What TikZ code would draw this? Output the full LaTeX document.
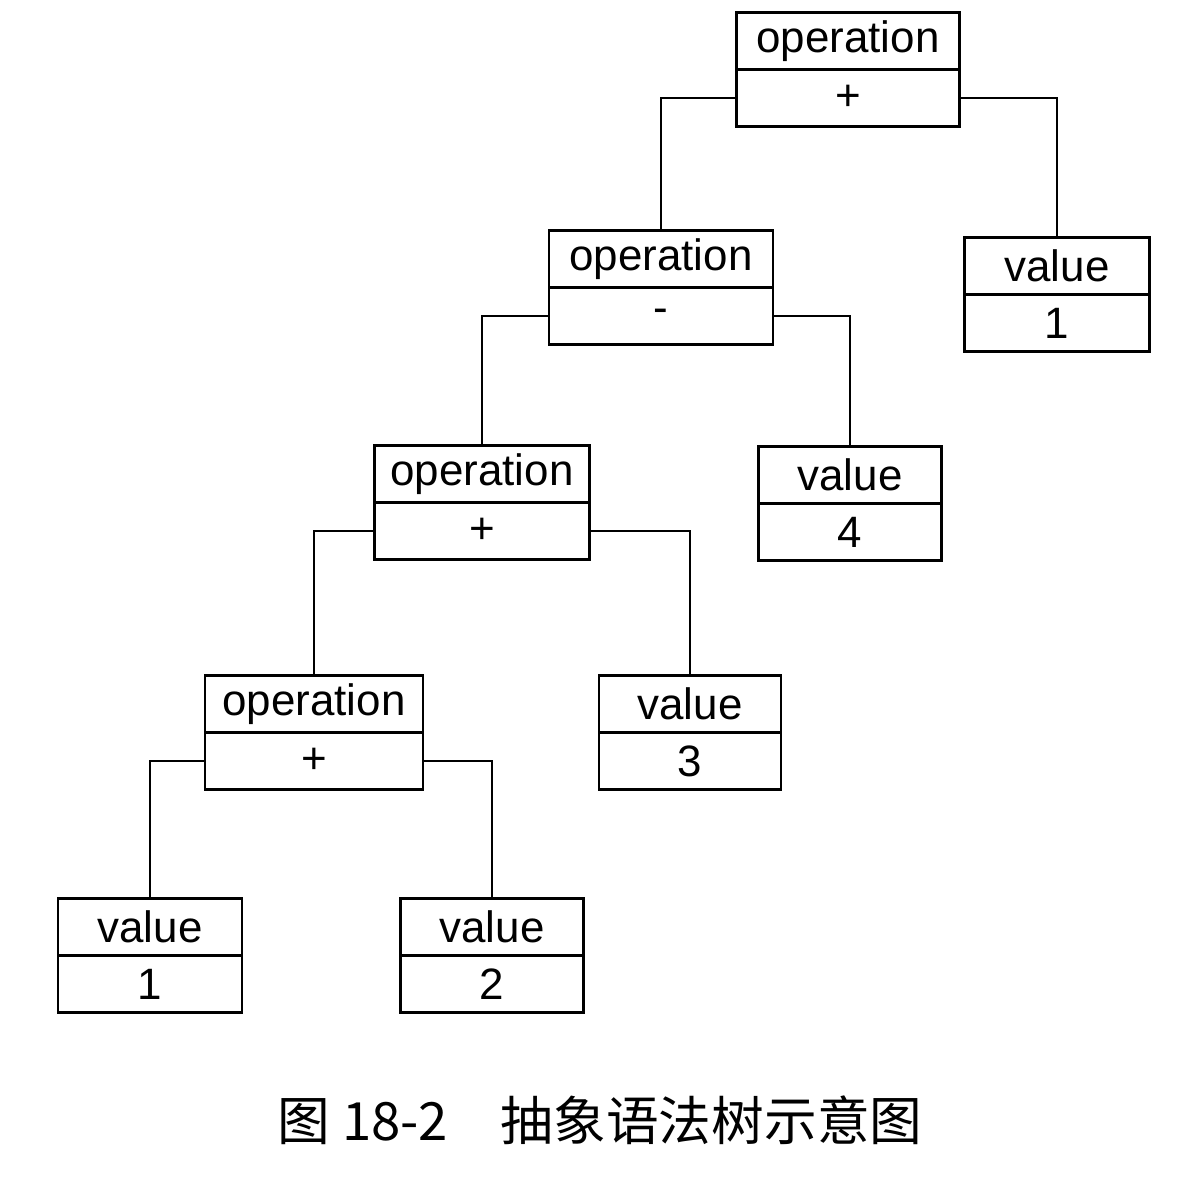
\documentclass[tikz,border=0pt]{standalone}
\usepackage{fontspec}
\setmainfont{Liberation Sans}
\newfontfamily\cjk{Noto Sans CJK SC}
\usetikzlibrary{positioning}
\tikzset{field/.style={rectangle,draw,line width=1.2pt,minimum height=1.14cm,inner sep=0pt,font=\fontsize{25}{28}\selectfont},
  link/.style={line width=1.2pt}}
\newcommand{\umlbox}[6]{%
  \node[field,minimum width=#4cm] (#1) at (#2,#3) {#5};
  \node[field,minimum width=#4cm,below=-1.2pt of #1] (#1v) {#6};}
\begin{document}
\begin{tikzpicture}[x=0.02cm,y=-0.02cm]
	\useasboundingbox (0,0) rectangle (1200,1180);
	
	\umlbox{opa}{848}{41}{4.46}{operation}{+}
	\umlbox{opb}{661}{259}{4.48}{operation}{-}
	\umlbox{vala}{1057}{266}{3.7}{value}{1}
	\umlbox{opc}{482}{474}{4.3}{operation}{+}
	\umlbox{valb}{850}{475}{3.66}{value}{4}
	\umlbox{opd}{314}{704}{4.36}{operation}{+}
	\umlbox{valc}{690}{704}{3.64}{value}{3}
	\umlbox{vald}{150}{927}{3.68}{value}{1}
	\umlbox{vale}{492}{927}{3.66}{value}{2}
	
	\draw[link] (opav.west) -| (opb.north);
	\draw[link] (opav.east) -| (vala.north);
	\draw[link] (opbv.west) -| (opc.north);
	\draw[link] (opbv.east) -| (valb.north);
	\draw[link] (opcv.west) -| (opd.north);
	\draw[link] (opcv.east) -| (valc.north);
	\draw[link] (opdv.west) -| (vald.north);
	\draw[link] (opdv.east) -| (vale.north);
	
	\node[font=\cjk\fontsize{30}{34}\selectfont] (caption) at (600,1120) {图 18-2\quad 抽象语法树示意图};
\end{tikzpicture}
\end{document}
